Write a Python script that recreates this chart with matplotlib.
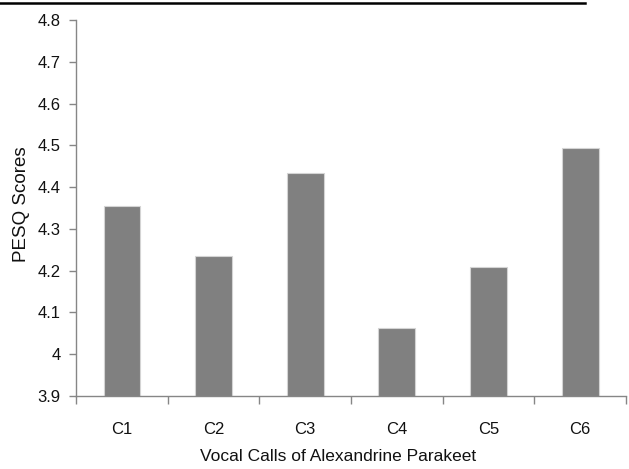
import matplotlib
matplotlib.use("Agg")
import matplotlib.pyplot as plt
from matplotlib.lines import Line2D
import numpy as np

categories = ["C1", "C2", "C3", "C4", "C5", "C6"]
values = [4.354, 4.235, 4.434, 4.062, 4.208, 4.494]
yticks = [3.9, 4.0, 4.1, 4.2, 4.3, 4.4, 4.5, 4.6, 4.7, 4.8]
ytick_labels = ["3.9", "4", "4.1", "4.2", "4.3", "4.4", "4.5", "4.6", "4.7", "4.8"]

font = "Liberation Sans"

fig = plt.figure(figsize=(6.29, 4.69), dpi=100)
ax = fig.add_axes([76/629, 1-396/469, 550/629, 376/469])

x = np.arange(len(categories))
ax.bar(x, values, width=0.4, bottom=0, color="#808080", edgecolor="#d4d4d4", linewidth=0.8, zorder=2)
ax.set_ylim(3.9, 4.8)
ax.set_xlim(-0.5, len(categories) - 0.5)

ax.set_yticks(yticks)
ax.set_yticklabels(ytick_labels, fontfamily=font, fontsize=12, color="#111111")
ax.set_xticks(x)
ax.set_xticklabels(categories, fontfamily=font, fontsize=12, color="#111111")
ax.set_xticks(np.arange(len(categories) + 1) - 0.5, minor=True)
ax.tick_params(axis="x", which="major", length=0, pad=19)
ax.tick_params(axis="x", which="minor", length=6, width=1, color="#868686", direction="out")
ax.tick_params(axis="y", which="major", length=5, width=1, color="#868686", direction="out", pad=6)

for s in ["top", "right"]:
    ax.spines[s].set_visible(False)
for s in ["left", "bottom"]:
    ax.spines[s].set_color("#868686")
    ax.spines[s].set_linewidth(1)

ax.set_ylabel("PESQ Scores", fontfamily=font, fontsize=13.5, color="#111111")
ax.set_xlabel("Vocal Calls of Alexandrine Parakeet", fontfamily=font, fontsize=12.5, color="#111111")
ax.xaxis.set_label_coords(0.476, -0.14)
ax.yaxis.set_label_coords(-0.083, 0.51)

fig.add_artist(Line2D([0, 585/629], [1-3/469, 1-3/469], transform=fig.transFigure, color="black", linewidth=1.8))

fig.savefig("out.png", dpi=100)
